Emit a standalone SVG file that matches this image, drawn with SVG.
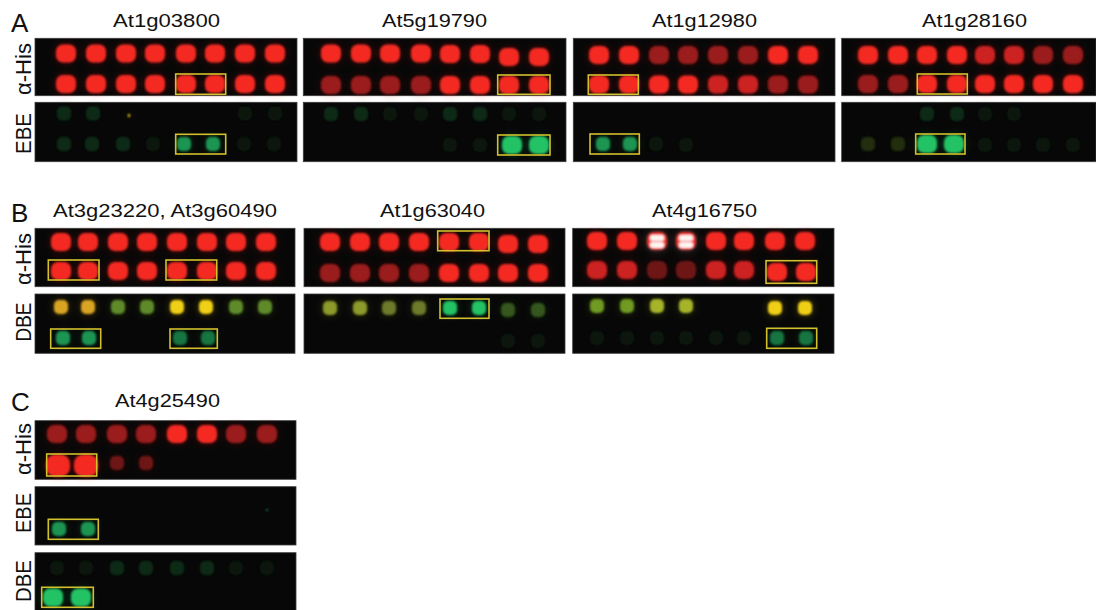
<svg xmlns="http://www.w3.org/2000/svg" xmlns:xlink="http://www.w3.org/1999/xlink" width="1096" height="610" viewBox="0 0 1096 610">
<style>
text{font-family:"Liberation Sans",Arial,sans-serif;fill:#111111}
.pl{font-size:26px}
.ti{font-size:19px}
.lb{font-size:22px;text-anchor:middle}
.pn{fill:#070707;stroke:#3c3c3c;stroke-width:0.8}
.bx{fill:none;stroke:#d2c02c;stroke-width:1.6}
.r1{fill:#f42a22}.r2{fill:#cc2020}.r3{fill:#9a1c1c}.r4{fill:#6e1616}
.g1{fill:#22c265}.g2{fill:#1b9552}.g3{fill:#167440}.g4{fill:#0b2c16}.g5{fill:#07170b}
.y1{fill:#f0d012}.y2{fill:#d8a424}.o1{fill:#5e8a2c}.o2{fill:#6c7a2a}.o3{fill:#35561f}.oy{fill:#8c9a2a}.gy{fill:#6f9a22}.yg{fill:#a6b42a}.ol{fill:#222e10}
.wh{fill:#fff3f0}
</style>
<defs>
<rect id="dt" x="-10" y="-9" width="20" height="18" rx="7"/>
<rect id="dl" x="-12" y="-11" width="24" height="22" rx="9"/>
<rect id="ds" x="-7" y="-7" width="14" height="14" rx="5"/>
<rect id="dw" x="-7" y="-3" width="14" height="6" rx="2"/>
<filter id="glow" x="-10%" y="-40%" width="120%" height="180%">
<feGaussianBlur in="SourceGraphic" stdDeviation="0.9" result="s"/>
<feGaussianBlur in="SourceGraphic" stdDeviation="4" result="b"/>
<feComponentTransfer in="b" result="bb"><feFuncA type="linear" slope="0.3"/></feComponentTransfer>
<feMerge><feMergeNode in="bb"/><feMergeNode in="s"/></feMerge>
</filter>
</defs>
<rect width="1096" height="610" fill="#ffffff"/>

<g id="titles">
<text class="pl" x="11" y="32">A</text>
<text class="pl" x="11" y="222">B</text>
<text class="pl" x="11" y="411">C</text>
<text class="ti" x="113" y="27" textLength="107" lengthAdjust="spacingAndGlyphs">At1g03800</text>
<text class="ti" x="382" y="27" textLength="105" lengthAdjust="spacingAndGlyphs">At5g19790</text>
<text class="ti" x="652" y="27" textLength="105" lengthAdjust="spacingAndGlyphs">At1g12980</text>
<text class="ti" x="922" y="27" textLength="105" lengthAdjust="spacingAndGlyphs">At1g28160</text>
<text class="ti" x="53" y="217" textLength="224" lengthAdjust="spacingAndGlyphs">At3g23220, At3g60490</text>
<text class="ti" x="380" y="217" textLength="105" lengthAdjust="spacingAndGlyphs">At1g63040</text>
<text class="ti" x="652" y="217" textLength="105" lengthAdjust="spacingAndGlyphs">At4g16750</text>
<text class="ti" x="115" y="407" textLength="105" lengthAdjust="spacingAndGlyphs">At4g25490</text>
</g>

<g id="row-labels">
<text class="lb" transform="translate(30.5,69) rotate(-90)" textLength="52" lengthAdjust="spacingAndGlyphs">α-His</text>
<text class="lb" transform="translate(30.5,133.5) rotate(-90)" textLength="41" lengthAdjust="spacingAndGlyphs">EBE</text>
<text class="lb" transform="translate(30.5,259) rotate(-90)" textLength="52" lengthAdjust="spacingAndGlyphs">α-His</text>
<text class="lb" transform="translate(30.5,322) rotate(-90)" textLength="39" lengthAdjust="spacingAndGlyphs">DBE</text>
<text class="lb" transform="translate(30.5,449) rotate(-90)" textLength="52" lengthAdjust="spacingAndGlyphs">α-His</text>
<text class="lb" transform="translate(30.5,513) rotate(-90)" textLength="40" lengthAdjust="spacingAndGlyphs">EBE</text>
<text class="lb" transform="translate(30.5,581) rotate(-90)" textLength="42" lengthAdjust="spacingAndGlyphs">DBE</text>
</g>

<!-- Panel A1 -->
<g id="A1-his">
<rect class="pn" x="35" y="38.3" width="262" height="57.4"/>
<g filter="url(#glow)">
<use xlink:href="#dt" class="r1" x="66" y="53.5"/><use xlink:href="#dt" class="r1" x="96" y="53.5"/><use xlink:href="#dt" class="r1" x="126" y="53.5"/><use xlink:href="#dt" class="r1" x="155" y="53.5"/><use xlink:href="#dt" class="r1" x="186" y="53.5"/><use xlink:href="#dt" class="r1" x="215" y="53.5"/><use xlink:href="#dt" class="r1" x="245" y="53.5"/><use xlink:href="#dt" class="r1" x="275" y="53.5"/>
<use xlink:href="#dt" class="r1" x="66" y="84"/><use xlink:href="#dt" class="r1" x="96" y="84"/><use xlink:href="#dt" class="r1" x="126" y="84"/><use xlink:href="#dt" class="r1" x="155" y="84"/><use xlink:href="#dt" class="r1" x="186" y="84"/><use xlink:href="#dt" class="r1" x="215" y="84"/><use xlink:href="#dt" class="r1" x="245" y="84"/><use xlink:href="#dt" class="r1" x="275" y="84"/>
</g>
<rect class="bx" x="175.7" y="74" width="50" height="20.3"/>
</g>
<g id="A1-ebe">
<rect class="pn" x="35" y="102.3" width="262" height="59.4"/>
<g filter="url(#glow)">
<use xlink:href="#ds" class="g4" x="64" y="113.5"/><use xlink:href="#ds" class="g4" x="93" y="113.5"/><rect class="y1" x="128" y="114" width="2" height="3"/><use xlink:href="#ds" class="g5" x="245" y="113.5"/><use xlink:href="#ds" class="g5" x="275" y="113.5"/>
<use xlink:href="#ds" class="g4" x="64" y="144"/><use xlink:href="#ds" class="g4" x="92" y="144"/><use xlink:href="#ds" class="g4" x="123" y="144"/><use xlink:href="#ds" class="g5" x="153" y="144"/>
<use xlink:href="#ds" class="g2" x="184" y="144"/><use xlink:href="#ds" class="g2" x="213" y="144"/><use xlink:href="#ds" class="g5" x="244" y="144"/><use xlink:href="#ds" class="g5" x="274" y="144"/>
</g>
<rect class="bx" x="175.7" y="134.3" width="50" height="19.7"/>
</g>

<!-- Panel A2 -->
<g id="A2-his">
<rect class="pn" x="303.3" y="38.3" width="262.7" height="57.4"/>
<g filter="url(#glow)">
<use xlink:href="#dt" class="r1" x="331" y="53.5"/><use xlink:href="#dt" class="r1" x="361" y="53.5"/><use xlink:href="#dt" class="r1" x="390" y="53.5"/><use xlink:href="#dt" class="r1" x="421" y="53.5"/><use xlink:href="#dt" class="r1" x="450" y="54"/><use xlink:href="#dt" class="r1" x="480" y="54"/><use xlink:href="#dt" class="r1" x="509" y="57"/><use xlink:href="#dt" class="r1" x="539" y="57"/>
<use xlink:href="#dt" class="r3" x="331" y="85"/><use xlink:href="#dt" class="r3" x="361" y="85"/><use xlink:href="#dt" class="r3" x="390" y="85"/><use xlink:href="#dt" class="r3" x="421" y="85"/><use xlink:href="#dt" class="r1" x="450" y="85"/><use xlink:href="#dt" class="r1" x="480" y="85"/><use xlink:href="#dt" class="r1" x="509" y="85"/><use xlink:href="#dt" class="r1" x="539" y="85"/>
</g>
<rect class="bx" x="497.7" y="75" width="52.3" height="19.3"/>
</g>
<g id="A2-ebe">
<rect class="pn" x="303.3" y="102.3" width="262.7" height="59.4"/>
<g filter="url(#glow)">
<use xlink:href="#ds" class="g4" x="331" y="114"/><use xlink:href="#ds" class="g4" x="361" y="114"/><use xlink:href="#ds" class="g5" x="390" y="114"/><use xlink:href="#ds" class="g5" x="421" y="114"/><use xlink:href="#ds" class="g4" x="450" y="114"/><use xlink:href="#ds" class="g4" x="480" y="114"/><use xlink:href="#ds" class="g5" x="509" y="114"/><use xlink:href="#ds" class="g5" x="539" y="114"/>
<use xlink:href="#ds" class="g5" x="450" y="145"/><use xlink:href="#ds" class="g5" x="480" y="145"/>
<use xlink:href="#dt" class="g1" x="512" y="145"/><use xlink:href="#dt" class="g1" x="539" y="145"/>
</g>
<rect class="bx" x="497.7" y="135" width="52.3" height="20"/>
</g>

<!-- Panel A3 -->
<g id="A3-his">
<rect class="pn" x="573.3" y="38.3" width="261.7" height="57.4"/>
<g filter="url(#glow)">
<use xlink:href="#dt" class="r1" x="599" y="55"/><use xlink:href="#dt" class="r1" x="629" y="55"/><use xlink:href="#dt" class="r3" x="659" y="55"/><use xlink:href="#dt" class="r3" x="688" y="55"/><use xlink:href="#dt" class="r3" x="718" y="55"/><use xlink:href="#dt" class="r3" x="748" y="55"/><use xlink:href="#dt" class="r1" x="778" y="55"/><use xlink:href="#dt" class="r1" x="808" y="55"/>
<use xlink:href="#dt" class="r1" x="599" y="84.5"/><use xlink:href="#dt" class="r1" x="629" y="84.5"/><use xlink:href="#dt" class="r1" x="659" y="84.5"/><use xlink:href="#dt" class="r1" x="688" y="84.5"/><use xlink:href="#dt" class="r2" x="718" y="84.5"/><use xlink:href="#dt" class="r2" x="748" y="84.5"/><use xlink:href="#dt" class="r3" x="778" y="84.5"/><use xlink:href="#dt" class="r3" x="808" y="84.5"/>
</g>
<rect class="bx" x="588.3" y="75" width="50" height="19.3"/>
</g>
<g id="A3-ebe">
<rect class="pn" x="573.3" y="102.3" width="261.7" height="59.4"/>
<g filter="url(#glow)">
<use xlink:href="#ds" class="g2" x="603" y="144"/><use xlink:href="#ds" class="g2" x="630" y="144"/><use xlink:href="#ds" class="g5" x="656" y="144"/><use xlink:href="#ds" class="g5" x="686" y="145"/>
</g>
<rect class="bx" x="590" y="134" width="49.3" height="20"/>
</g>

<!-- Panel A4 -->
<g id="A4-his">
<rect class="pn" x="841.7" y="38.3" width="254.3" height="57.4"/>
<g filter="url(#glow)">
<use xlink:href="#dt" class="r1" x="868" y="55"/><use xlink:href="#dt" class="r1" x="898" y="55"/><use xlink:href="#dt" class="r1" x="927" y="55"/><use xlink:href="#dt" class="r1" x="957" y="55"/><use xlink:href="#dt" class="r2" x="985" y="55"/><use xlink:href="#dt" class="r2" x="1014" y="55"/><use xlink:href="#dt" class="r3" x="1043" y="55"/><use xlink:href="#dt" class="r3" x="1073" y="55"/>
<use xlink:href="#dt" class="r3" x="868" y="84"/><use xlink:href="#dt" class="r3" x="898" y="84"/><use xlink:href="#dt" class="r1" x="927" y="84"/><use xlink:href="#dt" class="r1" x="957" y="84"/><use xlink:href="#dt" class="r1" x="985" y="84"/><use xlink:href="#dt" class="r1" x="1014" y="84"/><use xlink:href="#dt" class="r1" x="1043" y="84"/><use xlink:href="#dt" class="r1" x="1073" y="84"/>
</g>
<rect class="bx" x="917.3" y="74" width="50" height="20"/>
</g>
<g id="A4-ebe">
<rect class="pn" x="841.7" y="102.3" width="254.3" height="59.4"/>
<g filter="url(#glow)">
<use xlink:href="#ds" class="g4" x="927" y="114"/><use xlink:href="#ds" class="g4" x="957" y="114"/><use xlink:href="#ds" class="g5" x="985" y="114"/><use xlink:href="#ds" class="g5" x="1014" y="114"/>
<use xlink:href="#ds" class="ol" x="868" y="144"/><use xlink:href="#ds" class="ol" x="898" y="144"/><use xlink:href="#dt" class="g1" x="927" y="144"/><use xlink:href="#dt" class="g1" x="954" y="144"/><use xlink:href="#ds" class="g5" x="985" y="145"/><use xlink:href="#ds" class="g5" x="1014" y="145"/><use xlink:href="#ds" class="g5" x="1043" y="145"/><use xlink:href="#ds" class="g5" x="1073" y="145"/>
</g>
<rect class="bx" x="915.7" y="134" width="49.3" height="20"/>
</g>

<!-- Panel B1 -->
<g id="B1-his">
<rect class="pn" x="35" y="228.3" width="260" height="58.4"/>
<g filter="url(#glow)">
<use xlink:href="#dt" class="r1" x="61" y="242"/><use xlink:href="#dt" class="r1" x="88" y="242"/><use xlink:href="#dt" class="r1" x="118" y="242"/><use xlink:href="#dt" class="r1" x="147" y="242"/><use xlink:href="#dt" class="r1" x="177" y="242"/><use xlink:href="#dt" class="r1" x="207" y="242"/><use xlink:href="#dt" class="r1" x="236" y="242"/><use xlink:href="#dt" class="r1" x="266" y="242"/>
<use xlink:href="#dt" class="r1" x="61" y="271"/><use xlink:href="#dt" class="r1" x="88" y="271"/><use xlink:href="#dt" class="r1" x="118" y="271"/><use xlink:href="#dt" class="r1" x="147" y="271"/><use xlink:href="#dt" class="r1" x="177" y="271"/><use xlink:href="#dt" class="r1" x="207" y="271"/><use xlink:href="#dt" class="r1" x="236" y="271"/><use xlink:href="#dt" class="r1" x="266" y="271"/>
</g>
<rect class="bx" x="48.3" y="260" width="50.7" height="20"/>
<rect class="bx" x="166" y="260" width="50.7" height="20"/>
</g>
<g id="B1-dbe">
<rect class="pn" x="35" y="294" width="260" height="59.3"/>
<g filter="url(#glow)">
<use xlink:href="#ds" class="y2" x="61" y="307"/><use xlink:href="#ds" class="y2" x="88" y="307"/><use xlink:href="#ds" class="o1" x="118" y="307"/><use xlink:href="#ds" class="o1" x="147" y="307"/><use xlink:href="#ds" class="y1" x="177" y="307"/><use xlink:href="#ds" class="y1" x="206" y="307"/><use xlink:href="#ds" class="o1" x="236" y="307"/><use xlink:href="#ds" class="o1" x="265" y="307"/>
<use xlink:href="#ds" class="g2" x="63" y="338"/><use xlink:href="#ds" class="g2" x="89" y="338"/><use xlink:href="#ds" class="g3" x="180" y="338"/><use xlink:href="#ds" class="g3" x="208" y="338"/>
</g>
<rect class="bx" x="50.7" y="329" width="50" height="19.3"/>
<rect class="bx" x="170" y="329" width="47.3" height="19.3"/>
</g>

<!-- Panel B2 -->
<g id="B2-his">
<rect class="pn" x="304" y="228.3" width="261" height="58.4"/>
<g filter="url(#glow)">
<use xlink:href="#dt" class="r1" x="330" y="242"/><use xlink:href="#dt" class="r1" x="360" y="242"/><use xlink:href="#dt" class="r1" x="389" y="242"/><use xlink:href="#dt" class="r1" x="419" y="242"/><use xlink:href="#dt" class="r1" x="449" y="242"/><use xlink:href="#dt" class="r1" x="479" y="242"/><use xlink:href="#dt" class="r1" x="508" y="244"/><use xlink:href="#dt" class="r1" x="538" y="244"/>
<use xlink:href="#dt" class="r3" x="330" y="273"/><use xlink:href="#dt" class="r3" x="360" y="273"/><use xlink:href="#dt" class="r3" x="389" y="273"/><use xlink:href="#dt" class="r3" x="419" y="273"/><use xlink:href="#dt" class="r1" x="449" y="273"/><use xlink:href="#dt" class="r1" x="479" y="273"/><use xlink:href="#dt" class="r1" x="508" y="273"/><use xlink:href="#dt" class="r1" x="538" y="273"/>
</g>
<rect class="bx" x="437.7" y="231" width="51.3" height="19.7"/>
</g>
<g id="B2-dbe">
<rect class="pn" x="304" y="294" width="261" height="59.3"/>
<g filter="url(#glow)">
<use xlink:href="#ds" class="oy" x="330" y="308"/><use xlink:href="#ds" class="oy" x="360" y="308"/><use xlink:href="#ds" class="o2" x="389" y="308"/><use xlink:href="#ds" class="o2" x="419" y="308"/><use xlink:href="#ds" class="g1" x="450" y="308"/><use xlink:href="#ds" class="g1" x="479" y="308"/><use xlink:href="#ds" class="o3" x="508" y="310"/><use xlink:href="#ds" class="o3" x="538" y="310"/>
<use xlink:href="#ds" class="g5" x="508" y="341"/><use xlink:href="#ds" class="g5" x="538" y="341"/>
</g>
<rect class="bx" x="440" y="299" width="49" height="19.3"/>
</g>

<!-- Panel B3 -->
<g id="B3-his">
<rect class="pn" x="572.7" y="228.3" width="261.3" height="58.4"/>
<g filter="url(#glow)">
<use xlink:href="#dt" class="r1" x="597" y="241"/><use xlink:href="#dt" class="r1" x="627" y="241"/><use xlink:href="#dt" class="r1" x="657" y="241"/><use xlink:href="#dt" class="r1" x="686" y="241"/><use xlink:href="#dt" class="r1" x="716" y="241"/><use xlink:href="#dt" class="r1" x="744" y="241"/><use xlink:href="#dt" class="r1" x="775" y="241"/><use xlink:href="#dt" class="r1" x="805" y="241"/>
<use xlink:href="#dw" class="wh" x="657" y="238"/><use xlink:href="#dw" class="wh" x="657" y="245"/><use xlink:href="#dw" class="wh" x="686" y="238"/><use xlink:href="#dw" class="wh" x="686" y="245"/>
<use xlink:href="#dt" class="r2" x="597" y="270"/><use xlink:href="#dt" class="r2" x="627" y="270"/><use xlink:href="#dt" class="r4" x="657" y="270"/><use xlink:href="#dt" class="r4" x="686" y="270"/><use xlink:href="#dt" class="r2" x="716" y="270"/><use xlink:href="#dt" class="r2" x="744" y="270"/><use xlink:href="#dt" class="r1" x="777" y="272"/><use xlink:href="#dt" class="r1" x="806" y="272"/>
</g>
<rect class="bx" x="766" y="260.7" width="50.7" height="22.6"/>
</g>
<g id="B3-dbe">
<rect class="pn" x="572.7" y="294" width="261.3" height="59.3"/>
<g filter="url(#glow)">
<use xlink:href="#ds" class="gy" x="597" y="306"/><use xlink:href="#ds" class="gy" x="627" y="306"/><use xlink:href="#ds" class="yg" x="657" y="306"/><use xlink:href="#ds" class="yg" x="686" y="306"/><use xlink:href="#ds" class="y1" x="775" y="308"/><use xlink:href="#ds" class="y1" x="805" y="308"/>
<use xlink:href="#ds" class="g5" x="597" y="338"/><use xlink:href="#ds" class="g5" x="627" y="338"/><use xlink:href="#ds" class="g5" x="657" y="338"/><use xlink:href="#ds" class="g5" x="686" y="338"/><use xlink:href="#ds" class="g5" x="716" y="338"/><use xlink:href="#ds" class="g5" x="744" y="338"/>
<use xlink:href="#ds" class="g3" x="777" y="338"/><use xlink:href="#ds" class="g3" x="806" y="338"/>
</g>
<rect class="bx" x="766.7" y="328.3" width="50" height="20"/>
</g>

<!-- Panel C -->
<g id="C-his">
<rect class="pn" x="35" y="420.7" width="261" height="58.6"/>
<g filter="url(#glow)">
<use xlink:href="#dt" class="r3" x="57" y="434"/><use xlink:href="#dt" class="r3" x="86" y="434"/><use xlink:href="#dt" class="r3" x="117" y="434"/><use xlink:href="#dt" class="r3" x="146" y="434"/><use xlink:href="#dt" class="r1" x="177" y="434"/><use xlink:href="#dt" class="r1" x="207" y="434"/><use xlink:href="#dt" class="r3" x="236" y="434"/><use xlink:href="#dt" class="r3" x="267" y="434"/>
<use xlink:href="#dl" class="r1" x="58" y="465.5"/><use xlink:href="#dl" class="r1" x="86" y="465.5"/><use xlink:href="#ds" class="r4" x="117" y="463"/><use xlink:href="#ds" class="r4" x="146" y="463"/>
</g>
<rect class="bx" x="46.7" y="454" width="50" height="22"/>
</g>
<g id="C-ebe">
<rect class="pn" x="35" y="486.7" width="261" height="58.3"/>
<g filter="url(#glow)">
<use xlink:href="#ds" class="g2" x="59" y="529"/><use xlink:href="#ds" class="g2" x="88" y="529"/><rect class="g3" x="266" y="509" width="2" height="2"/>
</g>
<rect class="bx" x="48.3" y="519.3" width="50" height="20"/>
</g>
<g id="C-dbe">
<rect class="pn" x="35" y="552.7" width="261" height="60"/>
<g filter="url(#glow)">
<use xlink:href="#ds" class="g5" x="57" y="568"/><use xlink:href="#ds" class="g5" x="86" y="568"/><use xlink:href="#ds" class="g4" x="117" y="568"/><use xlink:href="#ds" class="g4" x="146" y="568"/><use xlink:href="#ds" class="g4" x="177" y="568"/><use xlink:href="#ds" class="g4" x="207" y="568"/><use xlink:href="#ds" class="g5" x="236" y="568"/><use xlink:href="#ds" class="g5" x="267" y="568"/>
<use xlink:href="#dt" class="g1" x="53" y="597.5"/><use xlink:href="#dt" class="g1" x="81" y="597.5"/>
</g>
<rect class="bx" x="41.7" y="587.3" width="51.6" height="20"/>
</g>
</svg>
